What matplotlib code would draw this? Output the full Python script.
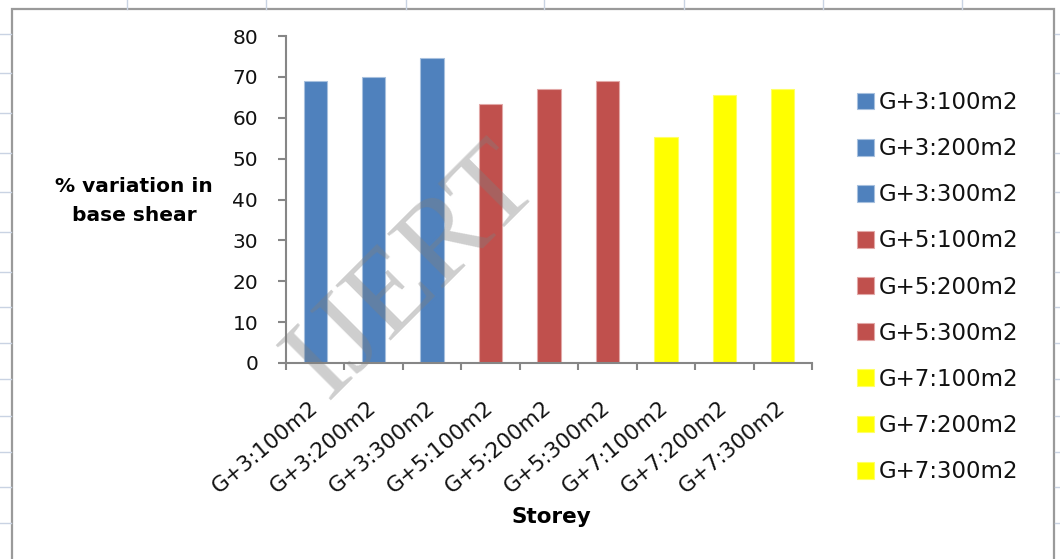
import matplotlib
matplotlib.use("Agg")
import matplotlib.pyplot as plt
from matplotlib.patches import Rectangle
from matplotlib.lines import Line2D
import numpy as np

# Data
categories = ["G+3:100m2", "G+3:200m2", "G+3:300m2",
              "G+5:100m2", "G+5:200m2", "G+5:300m2",
              "G+7:100m2", "G+7:200m2", "G+7:300m2"]
values = [69, 70, 74.5, 63.3, 67, 69, 55.3, 65.6, 67]
colors = ["#4F81BD"] * 3 + ["#C0504D"] * 3 + ["#FFFF00"] * 3
edge_colors = ["#A7C0DE"] * 3 + ["#E2A8A7"] * 3 + ["#FFFF66"] * 3
y_ticks = [0, 10, 20, 30, 40, 50, 60, 70, 80]

W, H = 1060, 559
fig = plt.figure(figsize=(W / 100, H / 100), dpi=100)
fig.patch.set_facecolor("white")

def fx(px):
    return px / W

def fy(py):
    return 1 - py / H

# Worksheet cell grid peeking around the chart frame
grid_c = "#C9D3E3"
for gx in [127, 266, 406, 544, 684, 823, 962]:
    fig.add_artist(Line2D([fx(gx), fx(gx)], [fy(0), fy(9)], color=grid_c, lw=1.0))
for gy in [34, 73, 113, 153, 192, 232, 272, 307, 343, 379, 416, 452, 487, 523]:
    fig.add_artist(Line2D([fx(0), fx(11)], [fy(gy), fy(gy)], color=grid_c, lw=1.0))
    fig.add_artist(Line2D([fx(1055), fx(1060)], [fy(gy), fy(gy)], color=grid_c, lw=1.0))

# Chart frame
fig.add_artist(Rectangle((fx(12), fy(575)), fx(1054) - fx(12), fy(9) - fy(575),
                         fill=True, facecolor="white", edgecolor="#9A9A9A", lw=1.6,
                         transform=fig.transFigure, zorder=0))

ax = fig.add_axes([fx(286), fy(363), fx(812) - fx(286), fy(36) - fy(363)])
ax.set_facecolor("none")

x = np.arange(len(categories))
bars = ax.bar(x, values, width=0.4, color=colors, edgecolor=edge_colors,
              linewidth=0.8, zorder=2)
for b, lab in zip(bars, categories):
    b.set_label(lab)

ax.set_xlim(-0.5, len(categories) - 0.5)
ax.set_ylim(0, 80)

axis_c = "#868686"
for s in ["top", "right"]:
    ax.spines[s].set_visible(False)
for s in ["left", "bottom"]:
    ax.spines[s].set_color(axis_c)
    ax.spines[s].set_linewidth(1.5)

ax.set_yticks(y_ticks)
ax.tick_params(axis="y", direction="out", length=6, width=1.5, color=axis_c,
               labelsize=14.5, pad=14, labelcolor="#111111")

ax.set_xticks(x)
ax.set_xticks(np.arange(-0.5, len(categories)), minor=True)
ax.tick_params(axis="x", which="major", length=0, pad=30)
ax.tick_params(axis="x", which="minor", direction="out", length=5, width=1.5,
               color=axis_c)
ax.set_xticklabels(categories, rotation=40, ha="right", va="center",
                   rotation_mode="anchor", fontsize=15.5, color="#111111")

ax.set_xlabel("Storey", fontsize=15.5, fontweight="bold", va="center")
ax.xaxis.set_label_coords((551 - 286) / 526, (363 - 517) / 327)
ax.set_ylabel("% variation in\nbase shear", fontsize=14.5, fontweight="bold",
              rotation=0, ha="center", va="center", linespacing=1.65)
ax.yaxis.set_label_coords((134 - 286) / 526, (363 - 201) / 327)

leg = fig.legend(handles=list(bars), labels=categories, loc="upper left",
                 bbox_to_anchor=(fx(857), fy(91)), frameon=False, fontsize=16.5,
                 handlelength=0.75, handleheight=0.75, handletextpad=0.2,
                 labelspacing=1.01, borderpad=0, borderaxespad=0)
for t in leg.get_texts():
    t.set_color("#111111")

# Journal watermark
fig.text(fx(414), fy(272), "IJERT", fontsize=86, family="Liberation Serif",
         color="#7F7F7F", alpha=0.38, rotation=45, ha="center", va="center",
         zorder=10)

fig.savefig("out.png", dpi=100)
